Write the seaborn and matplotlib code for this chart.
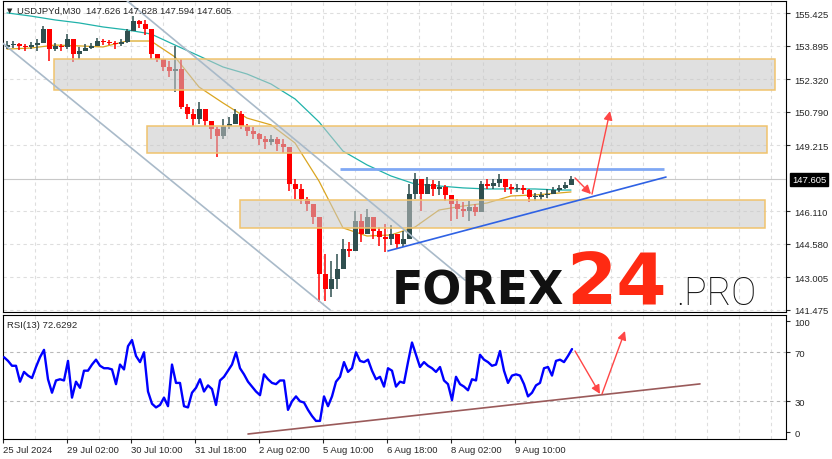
import matplotlib
matplotlib.use('Agg')
import matplotlib.pyplot as plt
import matplotlib.transforms as mtransforms
from matplotlib.patches import Rectangle
import numpy as np
import pandas as pd
import seaborn as sns

# USDJPYd M30 - candles agrupados de 6 em 6 barras (x = numero da barra)
candle_step = 6
first_open = 153.85
close_prices = [
    153.92, 153.97, 153.88, 153.83, 153.92, 154.02, 154.67, 153.73, 153.88, 153.83,
    154.20, 153.50, 153.64, 153.78, 153.88, 154.11, 154.06, 154.02, 153.97, 154.06,
    154.58, 155.05, 154.91, 154.67, 153.50, 153.26, 152.89, 152.70, 152.79, 151.01,
    150.68, 150.45, 150.92, 150.35, 149.98, 149.65, 150.12, 150.21, 150.68, 150.12,
    149.88, 149.74, 149.51, 149.37, 149.51, 149.27, 149.13, 147.39, 147.16, 146.69,
    146.45, 145.84, 143.17, 142.46, 142.93, 143.40, 144.34, 144.25, 145.66, 145.05,
    145.84, 145.19, 144.90, 144.81, 145.05, 144.58, 144.81, 146.92, 147.63, 146.92,
    147.39, 147.16, 147.25, 146.88, 146.45, 146.22, 146.13, 146.31, 146.08, 147.39,
    147.30, 147.44, 147.63, 147.25, 147.16, 147.21, 147.11, 146.78, 146.78, 146.88,
    146.92, 147.11, 147.21, 147.35, 147.605,
]
high_prices = [
    154.11, 154.11, 154.02, 153.97, 154.06, 154.20, 154.81, 154.58, 154.02, 153.97,
    154.44, 154.11, 153.83, 153.97, 154.02, 154.25, 154.20, 154.16, 154.11, 154.20,
    154.67, 155.28, 155.10, 155.10, 154.44, 153.50, 153.26, 153.17, 153.88, 153.26,
    151.15, 150.92, 151.24, 150.68, 150.35, 150.07, 150.45, 150.54, 150.92, 150.82,
    150.21, 150.07, 149.79, 149.65, 149.70, 149.60, 149.51, 149.13, 147.63, 147.39,
    146.78, 146.45, 145.75, 144.11, 143.78, 144.11, 144.81, 144.67, 146.13, 145.98,
    146.22, 145.66, 145.37, 145.51, 145.47, 144.95, 145.19, 147.39, 147.91, 147.49,
    147.72, 147.58, 147.53, 147.35, 146.88, 146.69, 146.55, 146.60, 146.45, 147.53,
    147.63, 147.63, 147.86, 147.63, 147.39, 147.39, 147.35, 147.16, 146.97, 147.02,
    147.16, 147.25, 147.35, 147.49, 147.77,
]
low_prices = [
    153.73, 153.78, 153.69, 153.64, 153.73, 153.64, 154.20, 153.17, 153.64, 153.64,
    153.73, 153.12, 153.26, 153.64, 153.73, 153.88, 153.92, 153.92, 153.73, 153.88,
    154.02, 154.77, 154.72, 154.39, 153.26, 153.12, 152.70, 152.42, 151.71, 150.92,
    150.45, 150.12, 150.21, 150.12, 149.51, 148.66, 149.51, 149.98, 150.21, 149.98,
    149.65, 149.51, 149.23, 149.04, 149.23, 148.94, 148.85, 147.07, 146.69, 146.45,
    146.13, 145.51, 141.85, 141.90, 142.09, 142.46, 143.78, 143.97, 144.34, 144.67,
    145.19, 144.81, 144.48, 144.20, 144.53, 144.34, 144.43, 144.81, 146.69, 146.13,
    146.92, 146.83, 146.88, 146.60, 145.66, 145.75, 145.84, 145.66, 145.89, 146.13,
    147.16, 147.16, 147.25, 147.02, 146.92, 147.02, 146.92, 146.55, 146.60, 146.64,
    146.74, 146.92, 147.02, 147.16, 147.35,
]

# medias moveis (amostradas a cada 24 barras + ultima barra)
ma_step = 24
ma_last_bar = 567
ma_fast = [153.73, 153.78, 153.92, 153.88, 153.83, 154.11, 154.11, 153.36, 151.95, 151.20,
           150.49, 150.17, 149.32, 147.53, 145.33, 144.95, 145.00, 145.37, 146.17, 146.36,
           146.50, 146.83, 146.88, 146.97, 147.02]
ma_slow = [155.43, 155.28, 155.10, 154.96, 154.77, 154.63, 154.44, 153.92, 153.41, 152.89,
           152.56, 152.09, 151.39, 150.31, 148.94, 148.29, 147.77, 147.39, 147.30, 147.21,
           147.16, 147.16, 147.16, 147.11, 147.11]

# RSI(13), uma amostra a cada 4 barras
rsi_step = 4
rsi_values = [
    66, 63, 59, 59, 46, 54, 51, 49, 58, 66, 72, 48, 37, 47, 48, 47, 63, 33, 46, 41,
    55, 55, 60, 64, 59, 57, 57, 56, 44, 60, 56, 75, 80, 67, 62, 70, 38, 28, 25, 27,
    33, 26, 60, 45, 45, 26, 25, 37, 41, 48, 38, 43, 40, 27, 47, 50, 55, 60, 70, 57,
    52, 46, 42, 38, 35, 52, 48, 45, 44, 47, 47, 23, 30, 34, 30, 29, 23, 18, 14, 14,
    34, 26, 34, 46, 50, 62, 54, 57, 70, 63, 62, 64, 55, 48, 50, 42, 57, 55, 42, 46,
    45, 62, 78, 68, 58, 62, 59, 57, 54, 58, 47, 44, 31, 50, 44, 42, 39, 48, 47, 68,
    64, 62, 59, 60, 71, 55, 45, 51, 52, 51, 44, 34, 37, 43, 45, 57, 58, 51, 63, 64,
    62, 67, 72.63,
]

price_ticks = [155.425, 153.895, 152.320, 150.790, 149.215, 146.110, 144.580, 143.005, 141.475]
last_price = 147.605
rsi_tick_pos = [95.5, 70, 30, 4.9]
rsi_tick_labels = ['100', '70', '30', '0']
time_tick_bars = [-1, 63, 127, 191, 255, 319, 383, 447, 511]
time_tick_labels = ['25 Jul 2024', '29 Jul 02:00', '30 Jul 10:00', '31 Jul 18:00', '2 Aug 02:00',
                    '5 Aug 10:00', '6 Aug 18:00', '8 Aug 02:00', '9 Aug 10:00']

# zonas e linhas de analise (barra, preco)
zones = [(50, 771, 151.81, 153.26), (143, 763, 148.85, 150.12), (236, 761, 145.33, 146.64)]
channel_lower = ([-4, 326], [154.11, 141.48])
channel_upper = ([121, 461], [156.08, 142.88])
resistance = ([336, 660], [148.10, 148.10])
support = ([384, 662], [144.25, 147.72])
price_arrows = [((571, 147.68), (587, 146.92)), ((588, 146.92), (606, 150.82))]
rsi_trend = ([244, 696], [3.3, 44.2])
rsi_arrows = [((571, 71.1), (596, 36.0)), ((598, 36.0), (621, 87.4))]

sns.set_style('white')
plt.rcParams['font.family'] = ['Liberation Sans', 'DejaVu Sans']

W, H = 832, 460
fig = plt.figure(figsize=(W / 100, H / 100), dpi=100)


def axes_px(left, top, right, bottom):
    return fig.add_axes([left / W, 1 - bottom / H, (right - left) / W, (bottom - top) / H])


ax = axes_px(3, 2, 786, 313)
ax_rsi = axes_px(3, 315.5, 786, 439.5)

bull, bear = '#2f4f4f', '#ff0000'
grid_kw = dict(color='#dedede', lw=0.8, ls=(0, (3, 3)), zorder=0)
label_size = 6.8

for a in (ax, ax_rsi):
    a.set_xlim(-1, 782)
    for b in range(31, 782, 32):
        a.axvline(b, **grid_kw)
    for s in a.spines.values():
        s.set_color('black')
        s.set_linewidth(0.8)

# grafico de precos
ax.set_ylim(141.381, 155.989)
for p in price_ticks:
    ax.axhline(p, **grid_kw)
ax.axhline(last_price, color='#c8c8c8', lw=0.8, zorder=0.5)

df = pd.DataFrame({
    'bar': np.arange(len(close_prices)) * candle_step + 3,
    'open': [first_open] + close_prices[:-1],
    'close': close_prices,
    'high': high_prices,
    'low': low_prices,
})
df['high'] = df[['high', 'open', 'close']].max(axis=1)
df['low'] = df[['low', 'open', 'close']].min(axis=1)
df['color'] = np.where(df['close'] >= df['open'], bull, bear)
body = (df['close'] - df['open']).abs().clip(lower=0.03)

ma_bars = list(range(3, 3 + ma_step * (len(ma_fast) - 1), ma_step)) + [ma_last_bar]
sns.lineplot(x=ma_bars, y=ma_slow, color='#20b2aa', lw=0.9, ax=ax, zorder=2)
sns.lineplot(x=ma_bars, y=ma_fast, color='#daa520', lw=0.9, ax=ax, zorder=2)

ax.vlines(df['bar'], df['low'], df['high'], colors=df['color'], lw=1.1, zorder=3)
ax.bar(df['bar'], body, bottom=df[['open', 'close']].min(axis=1), width=5,
       color=df['color'], linewidth=0, zorder=3)

for x0, x1, p0, p1 in zones:
    ax.add_patch(Rectangle((x0, p0), x1 - x0, p1 - p0, facecolor=(0.78, 0.78, 0.78, 0.55),
                           edgecolor='#f0c36d', lw=1.1, zorder=4))

ax.plot(*channel_lower, color='#a9bac9', lw=1.2, zorder=5)
ax.plot(*channel_upper, color='#a9bac9', lw=1.2, zorder=5)
ax.plot(*resistance, color='#80a8f4', lw=2, zorder=5, solid_capstyle='butt')
ax.plot(*support, color='#2f62e4', lw=1.2, zorder=5)

arrow_kw = dict(arrowstyle='-|>', color='#ff4646', lw=1, mutation_scale=13, shrinkA=0, shrinkB=0)
for start, end in price_arrows:
    ax.annotate('', xy=end, xytext=start, arrowprops=arrow_kw, zorder=6)

ax.yaxis.tick_right()
ax.set_yticks(price_ticks)
ax.set_yticklabels([f'{p:.3f}' for p in price_ticks])
ax.tick_params(axis='y', direction='out', length=3, width=0.8, labelsize=label_size, pad=3, right=True)
ax.set_xticks([])
ax.set_xlabel('')
ax.set_ylabel('')

price_tr = mtransforms.blended_transform_factory(ax.transAxes, ax.transData)
ax.text(1 + 6 / 783, last_price, f'{last_price:.3f}', transform=price_tr, ha='left', va='center',
        fontsize=label_size, color='white',
        bbox=dict(boxstyle='square,pad=0.22', fc='black', ec='black'))

# painel do RSI
ax_rsi.set_ylim(-0.37, 100.86)
for lvl in (70, 30):
    ax_rsi.axhline(lvl, color='#b9b9b9', lw=0.8, ls=(0, (3, 3)), zorder=0.5)

rsi_bars = np.arange(len(rsi_values)) * rsi_step
sns.lineplot(x=rsi_bars, y=rsi_values, color='#0000ff', lw=1.7, ax=ax_rsi, zorder=3)
ax_rsi.plot(*rsi_trend, color='#9a5a5a', lw=1.2, zorder=4)
for start, end in rsi_arrows:
    ax_rsi.annotate('', xy=end, xytext=start, arrowprops=arrow_kw, zorder=6)

ax_rsi.yaxis.tick_right()
ax_rsi.set_yticks(rsi_tick_pos)
ax_rsi.set_yticklabels(rsi_tick_labels)
ax_rsi.tick_params(axis='y', direction='out', length=3, width=0.8, labelsize=label_size, pad=3, right=True)
ax_rsi.set_xticks(time_tick_bars)
ax_rsi.set_xticklabels(time_tick_labels, ha='left')
ax_rsi.tick_params(axis='x', direction='out', length=3, width=0.8, labelsize=label_size, pad=2, bottom=True)
ax_rsi.set_xlabel('')
ax_rsi.set_ylabel('')

# textos do topo de cada painel
fig.text(7 / W, 1 - 13.5 / H, '\u25bc', fontsize=5, va='baseline', family=['DejaVu Sans'])
fig.text(17 / W, 1 - 13.5 / H, 'USDJPYd,M30  147.626 147.628 147.594 147.605', fontsize=label_size,
         va='baseline')
fig.text(7 / W, 1 - 328 / H, 'RSI(13) 72.6292', fontsize=label_size, va='baseline')

# marca d'agua
fig.text(392 / W, 1 - 305 / H, 'FOREX', fontsize=33, fontweight='bold', family=['DejaVu Sans'],
         color='#111111', va='baseline', ha='left')
fig.text(566 / W, 1 - 305 / H, '24', fontsize=52, fontweight='bold', family=['DejaVu Sans'],
         color='#ff2a12', va='baseline', ha='left')
fig.text(676 / W, 1 - 305 / H, '.PRO', fontsize=27, fontweight='light', family=['Roboto', 'DejaVu Sans'],
         color='#111111', va='baseline', ha='left')

fig.savefig('out.png', dpi=100)
